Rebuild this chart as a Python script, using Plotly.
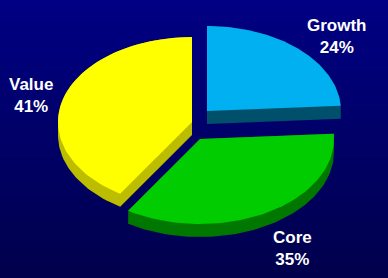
import numpy as np
import plotly.graph_objects as go

# ---- data ----
categories = ["Growth", "Core", "Value"]
shares = [24, 35, 41]

# ---- style / layout constants ----
top_colors = ["#00B0F0", "#00CC00", "#FFFF00"]
side_colors = ["#00506B", "#007800", "#BDBD00"]
apex = [(207, 111), (200, 139), (192, 122)]      # pixel position of each wedge's tip
label_pos = [(337, 36), (292, 248), (31, 95)]
RX, RY, DEPTH = 134, 85, 13
W, H = 388, 278


def hull(points):
    pts = sorted(set(points))
    def cross(o, a, b):
        return (a[0]-o[0])*(b[1]-o[1]) - (a[1]-o[1])*(b[0]-o[0])
    lower, upper = [], []
    for p in pts:
        while len(lower) >= 2 and cross(lower[-2], lower[-1], p) <= 0:
            lower.pop()
        lower.append(p)
    for p in reversed(pts):
        while len(upper) >= 2 and cross(upper[-2], upper[-1], p) <= 0:
            upper.pop()
        upper.append(p)
    return lower[:-1] + upper[:-1]


total = float(sum(shares))
bounds = np.concatenate([[0], np.cumsum(shares)]) / total * 2 * np.pi

wedges = []
for i, v in enumerate(shares):
    th = np.linspace(bounds[i], bounds[i + 1], 80)
    ax, ay = apex[i]
    xs = [ax] + list(ax + RX * np.sin(th)) + [ax]
    ys = [ay] + list(ay - RY * np.cos(th)) + [ay]
    wedges.append((xs, ys))

fig = go.Figure()

# background gradient
N = 60
c_top = np.array([0, 0, 132])
c_bot = np.array([0, 0, 76])
shapes = []
for k in range(N):
    t = k / (N - 1)
    c = (c_top * (1 - t) + c_bot * t).round().astype(int)
    shapes.append(dict(type="rect", xref="paper", yref="paper",
                       x0=0, x1=1, y0=1 - (k + 1) / N, y1=1 - k / N + 0.002,
                       fillcolor=f"rgb({c[0]},{c[1]},{c[2]})",
                       line=dict(width=0), layer="below"))

for i in [0, 2, 1]:
    xs, ys = wedges[i]
    pts = [(float(x), float(y)) for x, y in zip(xs, ys)]
    pts += [(x, y + DEPTH) for x, y in pts]
    h = hull(pts)
    fig.add_trace(go.Scatter(x=[p[0] for p in h] + [h[0][0]],
                             y=[p[1] for p in h] + [h[0][1]],
                             fill="toself", fillcolor=side_colors[i],
                             mode="lines", line=dict(width=0, color=side_colors[i]),
                             hoverinfo="skip", showlegend=False))
    fig.add_trace(go.Scatter(x=xs, y=ys, fill="toself", fillcolor=top_colors[i],
                             mode="lines", line=dict(width=0, color=top_colors[i]),
                             name=categories[i], hoverinfo="name", showlegend=False))

annotations = []
for i, c in enumerate(categories):
    annotations.append(dict(x=label_pos[i][0], y=label_pos[i][1], xref="x", yref="y",
                            text=f"<b>{c}<br>{shares[i]}%</b>", showarrow=False,
                            font=dict(family="Liberation Sans, Arial", size=17, color="white"),
                            align="center"))

fig.update_layout(
    width=W, height=H, margin=dict(l=0, r=0, t=0, b=0),
    paper_bgcolor="#000068", plot_bgcolor="rgba(0,0,0,0)",
    xaxis=dict(range=[0, W], visible=False, fixedrange=True),
    yaxis=dict(range=[H, 0], visible=False, fixedrange=True),
    shapes=shapes, annotations=annotations,
)

fig.write_html("out.html")
